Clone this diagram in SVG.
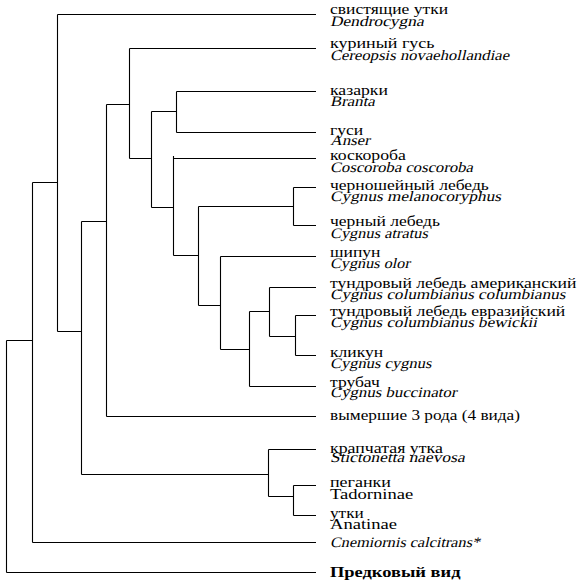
<svg xmlns="http://www.w3.org/2000/svg" width="587" height="588" viewBox="0 0 587 588">
<style>
.ln{fill:none;stroke:#000;stroke-width:1.1}
text{font-family:"Liberation Serif","Times New Roman",serif;fill:#000}
.ru{font-size:15px}
.la{font-size:14.5px}
.up{font-size:15px}
.b{font-size:15px;font-weight:bold}
</style>
<rect width="587" height="588" fill="#fff"/>
<g id="connectors" class="ln">
<path d="M6.5,340.5V572.5M6.5,340.5H32.5M6.5,572.5H316"/>
<path d="M32.5,182.5V542.5M32.5,182.5H57.5M32.5,542.5H316"/>
<path d="M57.5,14.5V331.5M57.5,14.5H316M57.5,331.5H81.5"/>
<path d="M81.5,221.5V474.5M81.5,221.5H106.5M81.5,474.5H268.5"/>
<path d="M268.5,449.5V496.5M268.5,449.5H316M268.5,496.5H293.5"/>
<path d="M293.5,485.5V515.5M293.5,485.5H316M293.5,515.5H316"/>
<path d="M106.5,104.5V416.5M106.5,104.5H129.5M106.5,416.5H316"/>
<path d="M129.5,48.5V158.5M129.5,48.5H316M129.5,158.5H151.5"/>
<path d="M151.5,111.5V207.5M151.5,111.5H176.5M151.5,207.5H173.5"/>
<path d="M176.5,91.5V132.5M176.5,91.5H316M176.5,132.5H316"/>
<path d="M173.5,156V255.5M173.5,158.5H316M173.5,255.5H198.5"/>
<path d="M198.5,206.5V305.5M198.5,206.5H293.5M198.5,305.5H220.5"/>
<path d="M293.5,187.5V225.5M293.5,187.5H316M293.5,225.5H316"/>
<path d="M220.5,256.5V349.5M220.5,256.5H316M220.5,349.5H249.5"/>
<path d="M249.5,311.5V386.5M249.5,311.5H269.5M249.5,386.5H316"/>
<path d="M269.5,287.5V336.5M269.5,287.5H316M269.5,336.5H295.5"/>
<path d="M295.5,315.5V355.5M295.5,315.5H316M295.5,355.5H316"/>
</g>
<g id="dendrocygna"><text class="ru" transform="translate(330,13.5) scale(1.17,1)">свистящие утки</text><text class="la" transform="translate(330,25.5) skewX(-13) scale(1.2,1)">Dendrocygna</text></g>
<g id="cereopsis"><text class="ru" transform="translate(330,47.5) scale(1.2,1)">куриный гусь</text><text class="la" transform="translate(330,59.5) skewX(-13) scale(1.15,1)">Cereopsis novaehollandiae</text></g>
<g id="branta"><text class="ru" transform="translate(330,95) scale(1.18,1)">казарки</text><text class="la" transform="translate(330,106) skewX(-13) scale(1.16,1)">Branta</text></g>
<g id="anser"><text class="ru" transform="translate(330,134.5) scale(1.17,1)">гуси</text><text class="la" transform="translate(330,145) skewX(-13) scale(1.15,1)">Anser</text></g>
<g id="coscoroba"><text class="ru" transform="translate(330,159.5) scale(1.18,1)">коскороба</text><text class="la" transform="translate(330,171.5) skewX(-13) scale(1.15,1)">Coscoroba coscoroba</text></g>
<g id="melanocoryphus"><text class="ru" transform="translate(330,190) scale(1.17,1)">черношейный лебедь</text><text class="la" transform="translate(330,201) skewX(-13) scale(1.19,1)">Cygnus melanocoryphus</text></g>
<g id="atratus"><text class="ru" transform="translate(330,226) scale(1.17,1)">черный лебедь</text><text class="la" transform="translate(330,237.5) skewX(-13) scale(1.13,1)">Cygnus atratus</text></g>
<g id="olor"><text class="ru" transform="translate(330,256.5) scale(1.17,1)">шипун</text><text class="la" transform="translate(330,268) skewX(-13) scale(1.12,1)">Cygnus olor</text></g>
<g id="columbianus"><text class="ru" transform="translate(330,287.5) scale(1.175,1)">тундровый лебедь американский</text><text class="la" transform="translate(330,299) skewX(-13) scale(1.18,1)">Cygnus columbianus columbianus</text></g>
<g id="bewickii"><text class="ru" transform="translate(330,316) scale(1.18,1)">тундровый лебедь евразийский</text><text class="la" transform="translate(330,326.5) skewX(-13) scale(1.18,1)">Cygnus columbianus bewickii</text></g>
<g id="cygnus"><text class="ru" transform="translate(330,356.5) scale(1.17,1)">кликун</text><text class="la" transform="translate(330,368) skewX(-13) scale(1.14,1)">Cygnus cygnus</text></g>
<g id="buccinator"><text class="ru" transform="translate(330,386.5) scale(1.17,1)">трубач</text><text class="la" transform="translate(330,396.5) skewX(-13) scale(1.16,1)">Cygnus buccinator</text></g>
<g id="extinct"><text class="ru" transform="translate(330,419.5) scale(1.15,1)">вымершие 3 рода (4 вида)</text></g>
<g id="stictonetta"><text class="ru" transform="translate(330,452.5) scale(1.19,1)">крапчатая утка</text><text class="la" transform="translate(330,462) skewX(-13) scale(1.2,1)">Stictonetta naevosa</text></g>
<g id="tadorninae"><text class="ru" transform="translate(330,487) scale(1.2,1)">пеганки</text><text class="up" transform="translate(330,498.5) scale(1.24,1)">Tadorninae</text></g>
<g id="anatinae"><text class="ru" transform="translate(330,517.5) scale(1.15,1)">утки</text><text class="up" transform="translate(330,529) scale(1.24,1)">Anatinae</text></g>
<g id="cnemiornis"><text class="la" transform="translate(330,546.5) skewX(-13) scale(1.12,1)">Cnemiornis calcitrans*</text></g>
<g id="ancestor"><text class="b" transform="translate(330,576.5) scale(1.23,1)">Предковый вид</text></g>
</svg>
